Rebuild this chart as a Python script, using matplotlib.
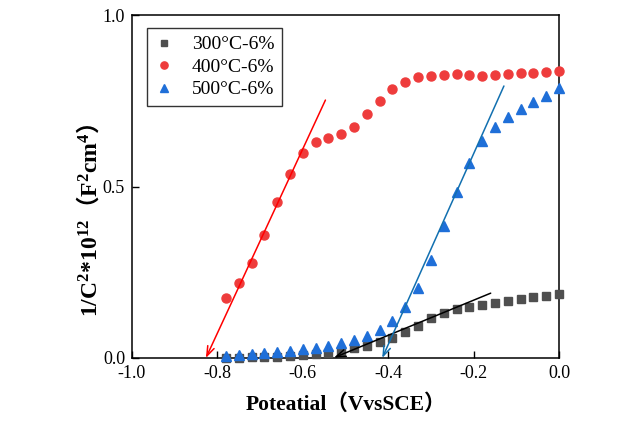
import matplotlib
matplotlib.use("Agg")
import matplotlib.pyplot as plt
import numpy as np

potential = [-0.78, -0.75, -0.72, -0.69, -0.66, -0.63, -0.60, -0.57, -0.54,
             -0.51, -0.48, -0.45, -0.42, -0.39, -0.36, -0.33, -0.30, -0.27,
             -0.24, -0.21, -0.18, -0.15, -0.12, -0.09, -0.06, -0.03, 0.00]

s300 = [0.000, 0.001, 0.002, 0.003, 0.004, 0.007, 0.009, 0.012, 0.015,
        0.021, 0.029, 0.036, 0.046, 0.059, 0.075, 0.094, 0.116, 0.130,
        0.142, 0.150, 0.155, 0.160, 0.166, 0.171, 0.177, 0.181, 0.186]

s400 = [0.176, 0.218, 0.278, 0.358, 0.454, 0.536, 0.598, 0.629, 0.641,
        0.653, 0.674, 0.710, 0.749, 0.783, 0.805, 0.818, 0.822, 0.826,
        0.828, 0.825, 0.823, 0.825, 0.828, 0.830, 0.832, 0.834, 0.836]

s500 = [0.006, 0.009, 0.011, 0.014, 0.017, 0.021, 0.025, 0.030, 0.036,
        0.043, 0.052, 0.064, 0.082, 0.108, 0.148, 0.204, 0.286, 0.384,
        0.484, 0.568, 0.633, 0.673, 0.703, 0.726, 0.746, 0.765, 0.787]

labels = ["300\u00b0C-6%", "400\u00b0C-6%", "500\u00b0C-6%"]

# fitted tangent lines: (start x, start y) -> (arrow tip x, tip y)
fit300 = [(-0.160, 0.189), (-0.527, 0.001)]
fit400 = [(-0.547, 0.752), (-0.827, 0.0)]
fit500 = [(-0.129, 0.793), (-0.414, 0.0)]

xticks = [-1.0, -0.8, -0.6, -0.4, -0.2, 0.0]
yticks = [0.0, 0.5, 1.0]

serif = ["Liberation Serif", "Noto Sans CJK SC", "DejaVu Sans"]
plt.rcParams["font.family"] = serif
plt.rcParams["mathtext.fontset"] = "custom"
plt.rcParams["mathtext.rm"] = "Liberation Serif"
plt.rcParams["mathtext.bf"] = "Liberation Serif:bold"
plt.rcParams["mathtext.it"] = "Liberation Serif:italic"

fig = plt.figure(figsize=(6.26, 4.29), dpi=100)
ax = fig.add_axes([132/626, 1-358/429, (559-132)/626, (358-15)/429])

ax.plot(potential, s300, ls="none", marker="s", ms=5.8, color="#4f4f4f",
        label=labels[0], clip_on=False, zorder=3)
ax.plot(potential, s400, ls="none", marker="o", ms=6.5, color="#ee3c3c",
        label=labels[1], clip_on=False, zorder=3)
ax.plot(potential, s500, ls="none", marker="^", ms=7, color="#1f6fd8",
        label=labels[2], clip_on=False, zorder=3)

for fit, col in [(fit300, "black"), (fit400, "#ff0000"), (fit500, "#1270b0")]:
    ax.annotate("", xy=fit[1], xytext=fit[0],
                arrowprops=dict(arrowstyle="->,head_length=0.7,head_width=0.25",
                                color=col, lw=1.1, shrinkA=0, shrinkB=0),
                annotation_clip=False, zorder=4)

ax.set_xlim(-1.0, 0.0)
ax.set_ylim(0.0, 1.0)
ax.set_xticks(xticks)
ax.set_yticks(yticks)
ax.set_xticklabels([f"{t:.1f}" for t in xticks])
ax.set_yticklabels([f"{t:.1f}" for t in yticks])
ax.tick_params(direction="in", length=5, width=1, labelsize=13, pad=5)
for sp in ax.spines.values():
    sp.set_linewidth(1.1)

ax.set_xlabel("Poteatial\uff08VvsSCE\uff09", fontsize=15.5, fontweight="bold",
              family=serif, labelpad=9)
ax.set_ylabel(r"$\mathbf{1/C^{2}{*}10^{12}}$" + "\uff08" + r"$\mathbf{F^{2}cm^{4}}$" + "\uff09",
              fontsize=17, fontweight="bold",
              family=["Noto Sans CJK SC", "Liberation Serif"])
ax.yaxis.set_label_coords(-0.072, 0.40)

leg = ax.legend(loc="upper left", bbox_to_anchor=(0.035, 0.962), fontsize=14,
                frameon=True, fancybox=False, edgecolor="black",
                handlelength=1.0, handletextpad=0.9, borderpad=0.4,
                labelspacing=0.25, borderaxespad=0, markerscale=0.8)
leg.get_frame().set_linewidth(1.0)

fig.savefig("out.png", dpi=100)
